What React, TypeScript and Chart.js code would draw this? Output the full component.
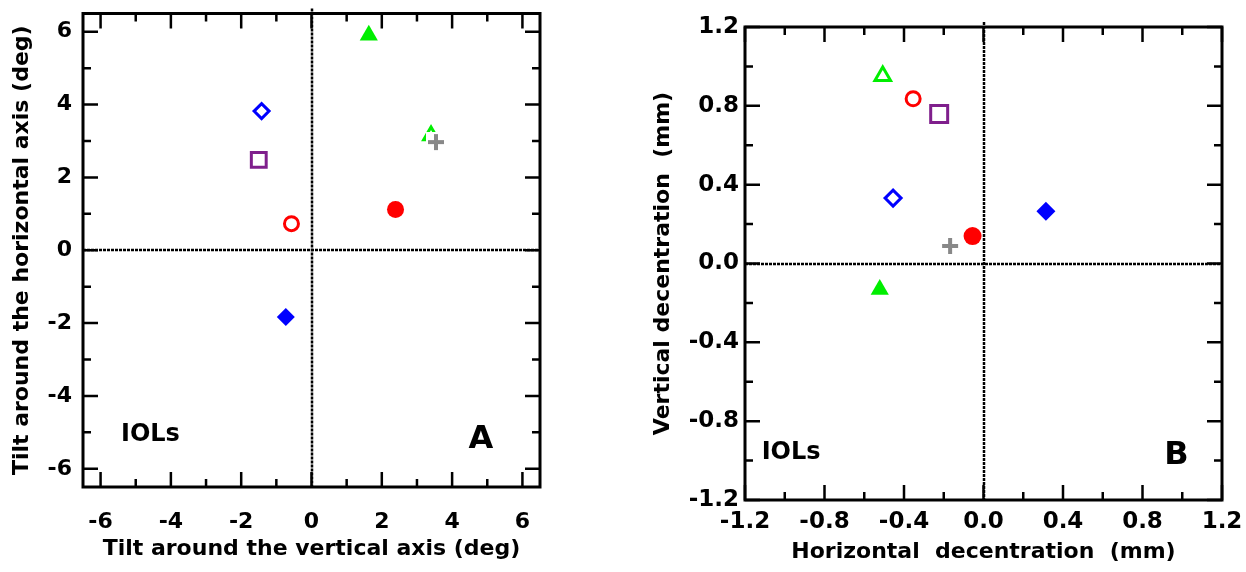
import React, { useEffect, useRef } from 'react';
import { Chart, registerables } from 'chart.js';

Chart.register(...registerables);

const FONT = '"DejaVu Sans", "Liberation Sans", sans-serif';

// ---------- Panel A : tilt (deg) ----------
const tiltTicks = [-6, -4, -2, 0, 2, 4, 6];
const tiltMinorTicks = [-5, -3, -1, 1, 3, 5];
const tiltOpenDiamond = [{ x: -1.42, y: 3.82 }];
const tiltFilledDiamond = [{ x: -0.73, y: -1.83 }];
const tiltOpenSquare = [{ x: -1.5, y: 2.48 }];
const tiltOpenCircle = [{ x: -0.57, y: 0.73 }];
const tiltFilledCircle = [{ x: 2.39, y: 1.12 }];
const tiltOpenTriangle = [{ x: 3.4, y: 3.15 }];
const tiltFilledTriangle = [{ x: 1.63, y: 5.9 }];
const tiltCross = [{ x: 3.54, y: 2.97 }];

// ---------- Panel B : decentration (mm) ----------
const decTicks = [-1.2, -0.8, -0.4, 0, 0.4, 0.8, 1.2];
const decMinorTicks = [-1.0, -0.6, -0.2, 0.2, 0.6, 1.0];
const decOpenDiamond = [{ x: -0.455, y: 0.332 }];
const decFilledDiamond = [{ x: 0.314, y: 0.265 }];
const decOpenSquare = [{ x: -0.223, y: 0.759 }];
const decOpenCircle = [{ x: -0.354, y: 0.836 }];
const decFilledCircle = [{ x: -0.055, y: 0.139 }];
const decOpenTriangle = [{ x: -0.507, y: 0.952 }];
const decFilledTriangle = [{ x: -0.522, y: -0.132 }];
const decCross = [{ x: -0.168, y: 0.089 }];

const BLUE = '#0000ff';
const RED = '#ff0000';
const GREEN = '#00ee00';
const PURPLE = '#7f1f8c';
const GRAY = '#888888';

function makeCross(color: string) {
  const c = document.createElement('canvas');
  c.width = 20;
  c.height = 20;
  const g = c.getContext('2d')!;
  g.fillStyle = '#ffffff';
  g.fillRect(0, 0, 20, 20);
  g.strokeStyle = color;
  g.lineWidth = 4;
  g.beginPath();
  g.moveTo(2, 10);
  g.lineTo(18, 10);
  g.moveTo(10, 2);
  g.lineTo(10, 18);
  g.stroke();
  return c;
}

function decorPlugin(cfg: {
  majors: number[];
  minors: number[];
  texts: { text: string; x: number; y: number; size: number; align: CanvasTextAlign }[];
}) {
  return {
    id: 'decor',
    beforeDatasetsDraw(chart: any) {
      const { ctx, chartArea: a, scales } = chart;
      const x0 = Math.round(scales.x.getPixelForValue(0));
      const y0 = Math.round(scales.y.getPixelForValue(0));
      ctx.save();
      ctx.strokeStyle = '#000';
      ctx.lineWidth = 2.5;
      ctx.setLineDash([3, 1]);
      ctx.beginPath();
      ctx.moveTo(x0, a.top - 5);
      ctx.lineTo(x0, a.bottom);
      ctx.moveTo(a.left, y0);
      ctx.lineTo(a.right, y0);
      ctx.stroke();
      ctx.restore();
    },
    afterDatasetsDraw(chart: any) {
      const { ctx, chartArea: a, scales } = chart;
      ctx.save();
      ctx.strokeStyle = '#000';
      ctx.lineWidth = 2.5;
      const tick = (v: number, len: number) => {
        const px = scales.x.getPixelForValue(v);
        const py = scales.y.getPixelForValue(v);
        ctx.moveTo(px, a.bottom);
        ctx.lineTo(px, a.bottom - len);
        ctx.moveTo(px, a.top);
        ctx.lineTo(px, a.top + len);
        ctx.moveTo(a.left, py);
        ctx.lineTo(a.left + len, py);
        ctx.moveTo(a.right, py);
        ctx.lineTo(a.right - len, py);
      };
      ctx.beginPath();
      cfg.majors.forEach((v) => tick(v, 15));
      cfg.minors.forEach((v) => tick(v, 8));
      ctx.stroke();
      ctx.lineWidth = 3;
      ctx.strokeRect(a.left, a.top, a.right - a.left, a.bottom - a.top);
      ctx.fillStyle = '#000';
      ctx.textBaseline = 'alphabetic';
      cfg.texts.forEach((t) => {
        ctx.font = `bold ${t.size}px ${FONT}`;
        ctx.textAlign = t.align;
        ctx.fillText(t.text, scales.x.getPixelForValue(t.x), scales.y.getPixelForValue(t.y));
      });
      ctx.restore();
    },
  };
}

function ds(data: any[], style: any, radius: number, color: string, filled: boolean, border = 3) {
  return {
    data,
    pointStyle: style,
    pointRadius: radius,
    pointHoverRadius: radius,
    pointBorderWidth: filled ? 0 : border,
    pointHoverBorderWidth: filled ? 0 : border,
    pointBackgroundColor: filled ? color : 'rgba(255,255,255,0)',
    pointBorderColor: color,
    showLine: false,
  };
}

function buildConfig(p: any) {
  const font = (size: number) => ({ family: FONT, size, weight: 'bold' as const });
  return {
    type: 'scatter' as const,
    data: { datasets: p.datasets },
    options: {
      animation: false as const,
      responsive: false,
      devicePixelRatio: 1,
      events: [],
      layout: { padding: p.padding },
      plugins: { legend: { display: false }, tooltip: { enabled: false } },
      scales: {
        x: {
          type: 'linear' as const,
          min: p.min,
          max: p.max,
          afterBuildTicks: (s: any) => {
            s.ticks = p.ticks.map((v: number) => ({ value: v }));
          },
          afterFit: (s: any) => {
            s.height = p.xHeight;
            s.paddingLeft = 0;
            s.paddingRight = 0;
          },
          grid: { display: false, drawTicks: false, tickLength: 0 },
          border: { display: false },
          ticks: {
            font: font(p.tickSize),
            color: '#000',
            padding: p.xTickPad,
            maxRotation: 0,
            autoSkip: false,
            callback: p.fmt,
          },
          title: {
            display: true,
            text: p.xTitle,
            font: font(22),
            color: '#000',
            padding: { top: 0, bottom: p.xTitlePad },
          },
        },
        y: {
          type: 'linear' as const,
          min: p.min,
          max: p.max,
          afterBuildTicks: (s: any) => {
            s.ticks = p.ticks.map((v: number) => ({ value: v }));
          },
          afterFit: (s: any) => {
            s.width = p.yWidth;
            s.paddingTop = 0;
            s.paddingBottom = 0;
          },
          grid: { display: false, drawTicks: false, tickLength: 0 },
          border: { display: false },
          ticks: {
            font: font(p.tickSize),
            color: '#000',
            padding: p.yTickPad,
            autoSkip: false,
            callback: p.fmt,
          },
          title: {
            display: true,
            text: p.yTitle,
            font: font(22),
            color: '#000',
            padding: { top: p.yTitlePad, bottom: 0 },
          },
        },
      },
    },
    plugins: [decorPlugin({ majors: p.ticks, minors: p.minors, texts: p.texts })],
  };
}

function Panel({ left, width, make }: { left: number; width: number; make: () => any }) {
  const ref = useRef<HTMLCanvasElement>(null);
  useEffect(() => {
    const chart = new Chart(ref.current as HTMLCanvasElement, make());
    return () => chart.destroy();
  }, []);
  return (
    <div style={{ position: 'absolute', left, top: 0, width, height: 572 }}>
      <canvas ref={ref} width={width} height={572} style={{ display: 'block', width, height: 572 }} />
    </div>
  );
}

const makeA = () =>
  buildConfig({
    min: -6.5,
    max: 6.5,
    ticks: tiltTicks,
    minors: tiltMinorTicks,
    fmt: (v: any) => String(Math.round(Number(v))),
    tickSize: 22,
    padding: { left: 0, top: 10, right: 80, bottom: 0 },
    xHeight: 85,
    yWidth: 83,
    xTickPad: 22,
    yTickPad: 11,
    xTitlePad: 10,
    yTitlePad: 9,
    xTitle: 'Tilt around the vertical axis (deg)',
    yTitle: 'Tilt around the horizontal axis (deg)',
    texts: [
      { text: 'IOLs', x: -5.42, y: -5.25, size: 24, align: 'left' },
      { text: 'A', x: 4.82, y: -5.43, size: 32, align: 'center' },
    ],
    datasets: [
      ds(tiltCross, makeCross(GRAY), 10, GRAY, true),
      ds(tiltOpenDiamond, 'rectRot', 7.5, BLUE, false),
      ds(tiltFilledDiamond, 'rectRot', 9, BLUE, true),
      ds(tiltOpenSquare, 'rect', 10.5, PURPLE, false),
      ds(tiltOpenCircle, 'circle', 7, RED, false),
      ds(tiltFilledCircle, 'circle', 8.5, RED, true),
      ds(tiltOpenTriangle, 'triangle', 8.5, GREEN, false),
      ds(tiltFilledTriangle, 'triangle', 10.5, GREEN, true),
    ],
  });

const makeB = () =>
  buildConfig({
    min: -1.2,
    max: 1.2,
    ticks: decTicks,
    minors: decMinorTicks,
    fmt: (v: any) => Number(v).toFixed(1),
    tickSize: 23,
    padding: { left: 0, top: 27, right: 24, bottom: 0 },
    xHeight: 72,
    yWidth: 125,
    xTickPad: 8,
    yTickPad: 6,
    xTitlePad: 7,
    yTitlePad: 30,
    xTitle: 'Horizontal  decentration  (mm)',
    yTitle: 'Vertical decentration  (mm)',
    texts: [
      { text: 'IOLs', x: -1.116, y: -0.991, size: 24, align: 'left' },
      { text: 'B', x: 0.971, y: -1.016, size: 32, align: 'center' },
    ],
    datasets: [
      ds(decCross, makeCross(GRAY), 10, GRAY, true),
      ds(decOpenDiamond, 'rectRot', 8, BLUE, false),
      ds(decFilledDiamond, 'rectRot', 9.5, BLUE, true),
      ds(decOpenSquare, 'rect', 12, PURPLE, false),
      ds(decOpenCircle, 'circle', 7, RED, false),
      ds(decFilledCircle, 'circle', 9, RED, true),
      ds(decOpenTriangle, 'triangle', 9, GREEN, false),
      ds(decFilledTriangle, 'triangle', 10.5, GREEN, true),
    ],
  });

export default function App() {
  return (
    <div style={{ position: 'absolute', left: 0, top: 0, width: 1246, height: 572, background: '#fff', overflow: 'hidden' }}>
      <Panel left={0} width={620} make={makeA} />
      <Panel left={620} width={626} make={makeB} />
    </div>
  );
}
